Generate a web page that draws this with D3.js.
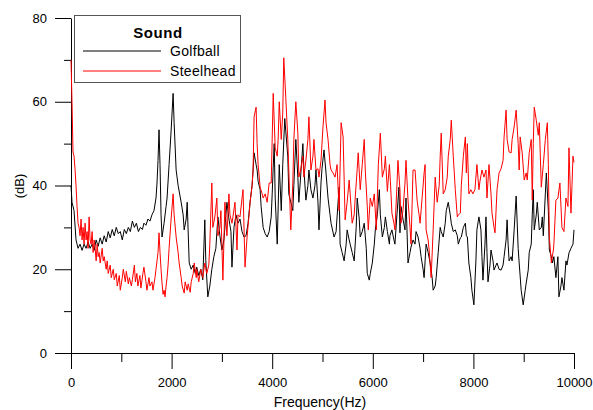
<!DOCTYPE html>
<html>
<head>
<meta charset="utf-8">
<script src="https://cdn.jsdelivr.net/npm/d3@7"></script>
<style>
  body { margin: 0; background: #fff; }
  svg { font-family: "Liberation Sans", Arial, sans-serif; }
  .axis text { font-size: 13px; fill: #000; }
  .axis path, .axis line { stroke: #000; }
</style>
</head>
<body>
<div id="viz"></div>
<script>
// values
const golfFreq = [0,20,60,100,140,180,220,260,300,340,380,420,460,500,540,580,620,660,700,740,780,820,860,900,940,980,1020,1060,1100,1140,1180,1220,1260,1300,1340,1380,1420,1450,1490,1530,1570,1610,1650,1690,1710,1730,1750,1770,1790,1810,1850,1890,1910,1950,1990,2030,2050,2090,2130,2190,2230,2250,2290,2310,2350,2390,2430,2470,2500,2540,2580,2620,2660,2680,2720,2760,2800,2840,2880,2920,2960,3000,3040,3100,3140,3180,3200,3240,3280,3320,3360,3400,3440,3480,3520,3560,3600,3620,3640,3680,3700,3720,3760,3780,3820,3860,3900,3940,3980,4000,4020,4040,4060,4100,4140,4180,4210,4250,4270,4310,4330,4370,4410,4430,4470,4510,4530,4570,4610,4630,4670,4710,4730,4770,4810,4850,4870,4910,4930,4970,4990,5030,5070,5110,5150,5170,5230,5270,5330,5350,5390,5430,5470,5490,5530,5550,5590,5630,5670,5690,5730,5750,5790,5830,5870,5890,5930,5950,5990,6030,6050,6090,6130,6150,6190,6230,6250,6290,6330,6340,6380,6420,6440,6480,6520,6540,6560,6600,6640,6660,6700,6740,6760,6800,6840,6860,6900,6940,6960,7000,7020,7060,7100,7140,7180,7200,7240,7260,7300,7340,7360,7400,7440,7460,7500,7540,7560,7600,7640,7680,7700,7740,7760,7800,7840,7860,7880,7910,7950,7970,8010,8050,8070,8110,8150,8170,8190,8230,8250,8270,8290,8330,8350,8390,8410,8450,8470,8510,8550,8590,8610,8650,8670,8690,8710,8750,8770,8810,8850,8890,8910,8950,8990,9030,9050,9090,9110,9150,9170,9190,9210,9250,9270,9310,9350,9370,9390,9430,9450,9490,9510,9550,9570,9600,9640,9680,9700,9740,9760,9800,9840,9860,9900,9940,9980,10000];
const golfDb = [40,36,34,27,25,26,24.5,26,25,26.5,25,26,24.5,27,25.5,27.5,26,28,26.5,29,27.5,29.5,28,30,28.5,29,27,29.5,28.5,30,29,31.5,30,31,29,30,29.5,31,30.5,32,31.5,33,34,37,40.6,46,53.3,45,33,27.7,31,35,37,45,53,62,55,43.7,40,36,33,29.4,32,36,21.5,20,21,19,20.5,18.5,20,17.5,31.8,22,13.4,16,20,23,25,32.5,28,24.6,27,36,32,29,20.5,30,33,31,32,29,27.7,28,31,36,40,43.7,47.8,45,43.7,41,39,35,30,28.5,27.7,29,32.5,38,44.4,50,37,26,45,34,45,56,53,47,38,36,34,40,51,42,36,43,50,44,36.5,40,43.7,39,37,40,43.7,36,29.4,40.6,44,48.5,43,37,33,31,27.7,29,39.6,26,24,22,26,29.4,27,26,24,22,30,37,32,27.7,29,31,25,19,17.4,19,21.5,26,29.4,33,39,33,27.7,30,32.5,29,26,28,29.4,27,26,33,39.6,28.7,35,32,29.4,37,21.5,24,25.3,27,26,29,27.7,25,23,20,18,26,24,21.5,18,15,16,18,24,30,29,27.7,31,34,36,33,31,29,29.4,28,26,27.5,27.7,30,31,28,27.7,21.5,18,15,11.5,22,29.4,32.5,29.4,23,17.4,26,32.5,24,17,21,24.6,22,19.8,21,21.5,20,19.8,21,23,27,31.8,26,22,23,22,29.4,37.5,25,21.5,15,11.5,15,16.7,19.8,24,26,33,39,29.4,33,36,29.4,30,32.5,28,38,43,34,24.6,23,21.5,23,18,23,13.4,16,18,15,22,21,23.9,25,26,29.4];

const steelFreq = [0,20,40,60,80,100,120,140,160,180,200,220,240,260,280,300,320,340,360,380,400,420,440,460,480,500,520,540,560,580,620,640,660,700,720,740,780,800,840,860,900,920,960,980,1020,1040,1080,1100,1140,1160,1200,1220,1260,1280,1310,1330,1370,1390,1430,1450,1490,1510,1550,1570,1610,1630,1670,1690,1730,1750,1770,1790,1810,1830,1850,1870,1890,1910,1930,1950,1990,2030,2050,2090,2130,2150,2190,2210,2250,2270,2310,2330,2370,2390,2430,2450,2490,2500,2540,2580,2620,2660,2700,2740,2760,2800,2820,2860,2900,2920,2960,2980,3020,3060,3100,3140,3160,3200,3220,3260,3300,3320,3360,3400,3420,3460,3500,3540,3560,3600,3620,3640,3680,3700,3720,3760,3800,3820,3860,3900,3940,3980,4020,4060,4100,4120,4140,4180,4210,4230,4270,4310,4330,4370,4410,4430,4470,4510,4530,4570,4610,4630,4670,4710,4730,4770,4810,4830,4870,4910,4930,4970,5010,5050,5070,5110,5150,5170,5210,5250,5290,5330,5370,5410,5450,5490,5530,5550,5590,5630,5650,5690,5710,5750,5790,5830,5850,5890,5910,5950,5990,6030,6070,6110,6150,6190,6230,6250,6290,6330,6350,6380,6420,6440,6480,6500,6540,6560,6600,6640,6660,6700,6740,6760,6800,6840,6880,6920,6940,6980,7020,7040,7060,7100,7120,7160,7200,7240,7280,7320,7340,7360,7400,7440,7480,7500,7540,7560,7600,7640,7680,7700,7740,7760,7800,7840,7860,7880,7910,7950,7990,8030,8070,8110,8130,8170,8210,8250,8270,8310,8350,8370,8410,8430,8470,8510,8550,8590,8610,8650,8670,8710,8750,8770,8810,8850,8890,8910,8930,8970,9010,9050,9070,9110,9150,9170,9190,9210,9250,9290,9310,9350,9390,9430,9470,9490,9510,9550,9590,9600,9640,9680,9720,9760,9800,9840,9880,9900,9940,9960,9980,10000];
const steelDb = [70,60,48,47,44,40,35,31,30,28,32,27,30,26,31,27,29,25,32.5,27,26,29,24,27,25,22,26,23,24,21.5,25,22,23,20,22,19,21,18,20,17.5,19,16,18.5,15,18,20,17,19.5,16.5,18,16,17.5,21,17,19,16,18.5,15.5,19,20.5,17,15,18,16,17,15,18,20,24,28.7,24,20,16.7,14,15,13.4,16,18,21,25,32,38,33,27.7,24,21.5,18,16,14.3,17,15,16.5,14.5,17,19,21.5,18,20,17,20,18,21.5,19,21,26,40.6,30,32.5,37,28,30,34,17.4,36,28,38,33,31,32.5,36,24.6,33,32.5,37,39,20.5,27.7,33,36,40,43.7,56.4,58.7,50,45,39.6,38,37,38,36,40.6,40.6,62,49,47,51.6,60,51,57.3,70.5,61,51,43.7,29.4,40.6,51,60,52.5,42,44,47,42,46,51,56.4,43.7,47,51,43.7,44,42,46,54,60.4,55,51,45,43.7,43,42,45,34,55,51.6,31.8,36,41.3,38,31,33,37,44,47.8,39,45,51,43.7,35,29.4,37,35,38,29.4,45,52.5,42,44,47,38.6,45,41,33.4,31,29.4,40,46,39,31,34,40.6,46,36.5,30,26,43.7,43.7,36.5,33,31,37,43,45,29.4,27,24.6,18,29.4,42,36,40,47,52.5,38,39,42,47,51,55.6,47,39,32.5,33,33.4,40,47,51.6,43,50,38,39,38,39,45,39,41,43.7,42,43.7,37,45,38,33.4,30,28.7,39,43,44,46,51.6,58,51,48,47.8,51,54,58,50,43.7,51.6,47.8,41.3,43,41.3,47.8,51,36.5,50,58.7,55.6,52,55,39.6,45,51,55,45,27.7,21.5,24.6,26,36.5,37,40.6,30,29,37,35,49,33.4,40,47,45.5];

const seriesNames = ['Golfball', 'Steelhead'];
const seriesColors = ['#000000', '#ff0000'];
const legendTitle = 'Sound';
const xTicks = [0, 2000, 4000, 6000, 8000, 10000];
const yTicks = [0, 20, 40, 60, 80];

const width = 593, height = 410;
const svg = d3.select('#viz').append('svg')
  .attr('width', width)
  .attr('height', height);

const x = d3.scaleLinear().domain([0, 10000]).range([71, 574]);
const y = d3.scaleLinear().domain([0, 80]).range([353, 18]);

// minor ticks first, majors on top
svg.append('g')
  .attr('class', 'axis')
  .attr('transform', `translate(0,${y(0)})`)
  .call(d3.axisBottom(x).tickValues(d3.range(1000, 10000, 2000)).tickSize(9).tickFormat(''))
  .call(g => g.select('.domain').remove());

svg.append('g')
  .attr('class', 'axis')
  .attr('transform', `translate(${x(0)},0)`)
  .call(d3.axisLeft(y).tickValues(d3.range(10, 80, 20)).tickSize(7).tickFormat(''))
  .call(g => g.select('.domain').remove());

svg.append('g')
  .attr('class', 'axis')
  .attr('transform', `translate(0,${y(0)})`)
  .call(d3.axisBottom(x).tickValues(xTicks).tickSize(16).tickSizeOuter(0).tickPadding(9).tickFormat(d3.format('d')));

svg.append('g')
  .attr('class', 'axis')
  .attr('transform', `translate(${x(0)},0)`)
  .call(d3.axisLeft(y).tickValues(yTicks).tickSize(16).tickSizeOuter(0).tickPadding(8));

svg.append('text')
  .attr('x', 320)
  .attr('y', 407)
  .attr('text-anchor', 'middle')
  .style('font-size', '14px')
  .text('Frequency(Hz)');

svg.append('text')
  .attr('transform', 'translate(24,186) rotate(-90)')
  .attr('text-anchor', 'middle')
  .style('font-size', '13px')
  .text('(dB)');

const line = d3.line()
  .x(d => x(d[0]))
  .y(d => y(d[1]));

const series = [
  d3.zip(golfFreq, golfDb),
  d3.zip(steelFreq, steelDb),
];

// red drawn after black, as in the reference
svg.selectAll('path.series')
  .data(series)
  .enter()
  .append('path')
  .attr('class', 'series')
  .attr('d', line)
  .attr('fill', 'none')
  .attr('stroke', (d, i) => seriesColors[i])
  .attr('stroke-width', 1);

// legend
const legend = svg.append('g');
legend.append('rect')
  .attr('x', 74.5)
  .attr('y', 15.5)
  .attr('width', 166)
  .attr('height', 67)
  .attr('fill', '#fff')
  .attr('stroke', '#555')
  .attr('stroke-width', 1);

legend.append('text')
  .attr('x', 158)
  .attr('y', 38)
  .attr('text-anchor', 'middle')
  .style('font-size', '15px')
  .style('font-weight', 'bold')
  .style('letter-spacing', '0.6px')
  .text(legendTitle);

seriesNames.forEach((name, i) => {
  const ly = 51 + i * 20;
  legend.append('line')
    .attr('x1', 83)
    .attr('x2', 161)
    .attr('y1', ly)
    .attr('y2', ly)
    .attr('stroke', seriesColors[i])
    .attr('stroke-width', 1);
  legend.append('text')
    .attr('x', 170)
    .attr('y', ly + 5)
    .style('font-size', '14px')
    .style('letter-spacing', '0.3px')
    .text(name);
});
</script>
</body>
</html>
